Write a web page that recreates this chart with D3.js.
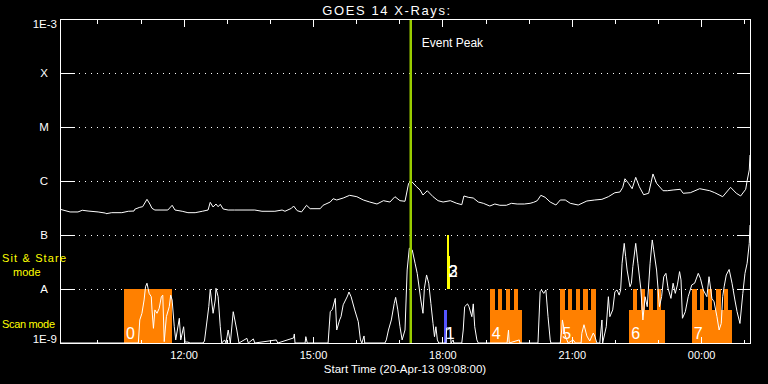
<!DOCTYPE html>
<html>
<head>
<meta charset="utf-8">
<script src="https://cdn.jsdelivr.net/npm/d3@7"></script>
<style>
  body { margin: 0; background: #000; }
  svg text { font-family: "Liberation Sans", Arial, sans-serif; fill: #fff; }
</style>
</head>
<body>
<svg id="chart" width="768" height="384"></svg>
<script>
// minutes after 20-Apr-13 09:08:00 UT
const timeRange = [0, 960];
const eventPeak = 488;

// flux levels on the y axis (W/m^2) and their labels
const fluxLevels = [1e-9, 1e-8, 1e-7, 1e-6, 1e-5, 1e-4, 1e-3];
const fluxLabels = ['1E-9', 'A', 'B', 'C', 'M', 'X', '1E-3'];

// GOES 14 long channel (1-8 A)
const longTime = [0,4,14,25,31,39,53,63,64,72,86,95,103,104,111,115,121,125,128,132,150,156,160,170,178,188,198,206,209,213,217,220,223,227,234,243,271,281,299,309,313,322,325,330,336,343,348,362,366,376,380,385,394,403,413,422,431,441,450,459,466,473,480,485,489,496,501,505,511,519,526,533,543,552,559,562,568,575,582,589,598,605,612,621,628,636,646,654,659,664,669,675,682,690,696,703,710,721,733,744,754,763,772,779,783,786,791,796,801,806,812,819,825,830,839,845,853,863,867,877,890,904,911,922,933,941,947,954,956,959,960];
const longFlux = [3.0e-7,2.9e-7,2.67e-7,2.67e-7,2.87e-7,2.78e-7,2.67e-7,2.55e-7,2.48e-7,2.59e-7,2.59e-7,2.75e-7,2.78e-7,3.0e-7,3.26e-7,3.34e-7,4.58e-7,3.75e-7,3.12e-7,2.9e-7,2.9e-7,3.55e-7,2.9e-7,2.75e-7,2.59e-7,2.59e-7,2.75e-7,2.9e-7,4.03e-7,3.3e-7,3.75e-7,3.34e-7,3.7e-7,3.03e-7,2.9e-7,2.9e-7,2.9e-7,2.75e-7,2.75e-7,2.9e-7,2.75e-7,3.12e-7,3.44e-7,2.82e-7,2.67e-7,3.55e-7,3.07e-7,3.07e-7,3.55e-7,4.08e-7,4.7e-7,4.45e-7,4.84e-7,5.43e-7,5.12e-7,4.45e-7,4.08e-7,3.75e-7,4.32e-7,4.08e-7,5.12e-7,4.32e-7,4.21e-7,9.06e-7,9.87e-7,7.84e-7,6.81e-7,5.5e-7,6.61e-7,5.12e-7,4.32e-7,4.08e-7,4.32e-7,3.86e-7,3.64e-7,5.28e-7,4.99e-7,4.84e-7,4.08e-7,3.86e-7,3.44e-7,3.75e-7,3.55e-7,3.55e-7,3.86e-7,3.75e-7,3.75e-7,3.86e-7,4.03e-7,4.32e-7,5.43e-7,4.99e-7,4.08e-7,3.59e-7,4.45e-7,4.45e-7,3.86e-7,3.59e-7,4.26e-7,4.45e-7,4.58e-7,5.12e-7,6.07e-7,6.25e-7,7.64e-7,1.1e-6,9.06e-7,7.2e-7,1.17e-6,7.84e-7,5.57e-7,5.92e-7,1.35e-6,9.06e-7,6.61e-7,6.61e-7,6.81e-7,7.02e-7,5.92e-7,6.07e-7,7.2e-7,6.61e-7,6.07e-7,5.12e-7,7.64e-7,5.92e-7,5.28e-7,7.02e-7,1.01e-6,1.6e-6,3.03e-6];

// GOES 14 short channel (0.5-4 A), floor at 1E-9
const shortTime = [0,109,111,114,117,119,121,124,127,128,130,132,135,138,141,143,145,148,152,154,156,159,161,166,168,172,174,178,181,199,201,207,209,213,216,217,220,223,225,229,231,234,237,241,246,249,260,262,269,271,301,303,325,326,327,341,342,344,373,376,379,383,385,389,391,394,400,402,405,410,415,418,420,423,424,452,454,457,461,465,467,470,473,476,480,483,486,490,494,497,502,505,507,510,513,516,519,521,523,525,527,537,538,543,544,547,548,559,561,563,567,569,573,575,577,580,582,622,624,625,639,640,665,668,670,673,676,679,682,683,696,698,699,703,707,714,717,725,726,729,733,737,742,744,747,751,754,755,760,763,765,769,772,775,778,780,782,785,787,789,793,795,797,801,804,808,811,814,817,821,824,826,830,834,837,840,843,846,850,853,856,859,862,864,866,870,874,879,883,888,891,895,900,903,907,910,914,917,920,922,924,927,931,935,939,942,946,950,953,956,959,960];
const shortFlux = [1e-9,1e-9,2.67e-9,3.55e-9,6.26e-9,1.1e-8,1.28e-8,8.3e-9,7.2e-9,4.1e-9,1.87e-9,4.1e-9,3.55e-9,4.4e-9,7.2e-9,7.7e-9,1.06e-9,3.07e-9,4.7e-9,7.7e-9,6.26e-9,2.0e-9,1.14e-9,2.87e-9,1.14e-9,2.0e-9,1.04e-9,1.04e-9,1e-9,1e-9,1.09e-9,4.7e-9,9.9e-9,3.55e-9,6.26e-9,1.03e-8,7.2e-9,2.0e-9,1e-9,1.14e-9,1e-9,1.74e-9,1e-9,3.8e-9,1.74e-9,1e-9,1.22e-9,1e-9,1.19e-9,1e-9,1.14e-9,1e-9,1.24e-9,1.47e-9,1e-9,1e-9,1.31e-9,1e-9,1e-9,3.8e-9,4.2e-9,6.7e-9,1.74e-9,2.67e-9,3.07e-9,5.1e-9,7.4e-9,8.8e-9,7.2e-9,4.1e-9,2.48e-9,1.14e-9,1e-9,1.35e-9,1e-9,1e-9,1.14e-9,1.74e-9,2.67e-9,5.4e-9,7.0e-9,4.1e-9,2.0e-9,1.14e-9,1.74e-9,2.25e-8,5.7e-8,5.3e-8,3.0e-8,1.95e-8,6.26e-9,3.55e-9,1.03e-8,1.82e-8,1.28e-8,5.4e-9,2.3e-9,1.31e-9,2.0e-9,1.14e-9,1e-9,1e-9,1.9e-9,1.9e-9,1e-9,1.14e-9,1e-9,1e-9,1.74e-9,4.7e-9,5.3e-9,4.7e-9,3.07e-9,5.3e-9,2.0e-9,1.14e-9,1e-9,1e-9,1.74e-9,1e-9,1.14e-9,1e-9,1e-9,8.9e-9,9.6e-9,8.3e-9,9.6e-9,3.07e-9,1.14e-9,1e-9,1e-9,1.74e-9,2.67e-9,1.35e-9,1e-9,1.14e-9,1e-9,1e-9,1.51e-9,2.18e-9,1.35e-9,1.09e-9,1.53e-9,1.35e-9,1e-9,1e-9,2.67e-9,1e-9,2.0e-9,7.2e-9,3.07e-9,4.1e-9,8.9e-9,9.6e-9,7.7e-9,9.6e-9,3.0e-8,7.0e-8,4.0e-8,2.25e-8,1.1e-8,1.28e-8,2.6e-8,7.0e-8,3.0e-8,1.03e-8,2.67e-9,7.2e-9,4.7e-9,3.0e-8,8.1e-8,5.3e-8,2.25e-8,4.7e-9,7.2e-9,1.69e-8,1.95e-8,1.03e-8,6.7e-9,1.28e-8,8.3e-9,1.19e-8,2.1e-8,1.47e-8,2.87e-9,3.8e-9,7.2e-9,1.19e-8,1.28e-8,1.95e-8,1.58e-8,9.6e-9,7.2e-9,1.69e-8,6.7e-9,5.8e-9,3.07e-9,1.74e-9,2.3e-9,7.2e-9,1.1e-8,1.82e-8,2.3e-8,1.28e-8,6.26e-9,3.8e-9,2.3e-9,8.3e-9,1.95e-8,3.0e-8,7.0e-8,1.53e-7];

// scan mode observations
const scanIds = [0, 1, 4, 5, 6, 7];
const scanStart = [89, 534, 598, 696, 792, 879];
const scanEnd = [156, 538, 643, 746, 842, 935];
const scanTop = [1e-8, 4.1e-9, 4.1e-9, 4.1e-9, 4.1e-9, 4.1e-9];
const scanKind = ['raster', 'single', 'raster', 'raster', 'raster', 'raster'];
// exposure windows inside the scans (reach the A level)
const exposureStart = [598, 609, 620, 631, 696, 707, 718, 728, 739, 797, 808, 819, 830, 879, 890, 901, 913, 924];
const exposureEnd = [605, 615, 626, 637, 702, 713, 724, 735, 746, 803, 814, 825, 836, 886, 896, 907, 919, 930];

// sit & stare observations
const stareIds = [2, 3];
const stareStart = [538, 541];
const stareEnd = [541, 543];
const stareTop = [1e-7, 4.1e-8];

const t0 = Date.UTC(2013, 3, 20, 9, 8);
const toDate = m => new Date(t0 + m * 60000);

const svg = d3.select('#chart');
const plotLeft = 60, plotRight = 750, plotTop = 19, plotBottom = 343;

const x = d3.scaleUtc().domain(timeRange.map(toDate)).range([plotLeft, plotRight]);
const y = d3.scaleLog().domain([fluxLevels[0], fluxLevels[fluxLevels.length - 1]])
    .range([plotBottom, plotTop]).clamp(true);

svg.append('rect').attr('width', 768).attr('height', 384).attr('fill', '#000');

// dotted level lines
const inner = fluxLevels.slice(1, -1);
svg.append('g').selectAll('line')
    .data(inner)
    .enter().append('line')
    .attr('x1', plotLeft + 19).attr('x2', plotRight - 14)
    .attr('y1', d => Math.round(y(d)) + 0.5).attr('y2', d => Math.round(y(d)) + 0.5)
    .attr('stroke', '#fff')
    .attr('stroke-dasharray', '1,5');

// scan blocks
const kindColor = { raster: '#ff8000', single: '#5555ff' };
const scans = scanIds.map((id, i) => ({ id, s: scanStart[i], e: scanEnd[i], top: scanTop[i], kind: scanKind[i] }));
svg.append('g').selectAll('rect')
    .data(scans)
    .enter().append('rect')
    .attr('x', d => x(toDate(d.s)))
    .attr('width', d => x(toDate(d.e)) - x(toDate(d.s)))
    .attr('y', d => y(d.top))
    .attr('height', d => y(fluxLevels[0]) - y(d.top))
    .attr('fill', d => kindColor[d.kind])
    .attr('shape-rendering', 'crispEdges');

const exposures = exposureStart.map((s, i) => ({ s, e: exposureEnd[i] }));
svg.append('g').selectAll('rect')
    .data(exposures)
    .enter().append('rect')
    .attr('x', d => x(toDate(d.s)))
    .attr('width', d => x(toDate(d.e)) - x(toDate(d.s)))
    .attr('y', y(fluxLevels[1]))
    .attr('height', y(fluxLevels[0]) - y(fluxLevels[1]))
    .attr('fill', kindColor.raster)
    .attr('shape-rendering', 'crispEdges');

// sit & stare bars
const stares = stareIds.map((id, i) => ({ id, s: stareStart[i], e: stareEnd[i], top: stareTop[i] }));
svg.append('g').selectAll('rect')
    .data(stares)
    .enter().append('rect')
    .attr('x', d => x(toDate(d.s)))
    .attr('width', d => x(toDate(d.e)) - x(toDate(d.s)))
    .attr('y', d => y(d.top))
    .attr('height', d => y(fluxLevels[1]) - y(d.top))
    .attr('fill', '#ffff00')
    .attr('shape-rendering', 'crispEdges');

// flux curves
const line = d3.line()
    .x(d => x(toDate(d[0])))
    .y(d => y(d[1]));
const longData = longTime.map((t, i) => [t, longFlux[i]]);
const shortData = shortTime.map((t, i) => [t, shortFlux[i]]);
[longData, shortData].forEach(data => {
    svg.append('path')
        .datum(data)
        .attr('d', line)
        .attr('fill', 'none')
        .attr('stroke', '#fff')
        .attr('stroke-width', 1);
});

// observation numbers
svg.append('g').selectAll('text')
    .data(scans)
    .enter().append('text')
    .attr('x', d => x(toDate(d.s)) + 2)
    .attr('y', y(fluxLevels[0]) - 4)
    .attr('font-size', 16)
    .text(d => d.id);
svg.append('g').selectAll('text')
    .data(stares)
    .enter().append('text')
    .attr('x', x(toDate(stareStart[0])) + 2)
    .attr('y', y(fluxLevels[1]) - 12)
    .attr('font-size', 16)
    .text(d => d.id);

// event peak
const xp = x(toDate(eventPeak));
svg.append('line')
    .attr('x1', xp).attr('x2', xp)
    .attr('y1', plotTop).attr('y2', plotBottom)
    .attr('stroke', '#99cc00')
    .attr('stroke-width', 2.5);
svg.append('text')
    .attr('x', xp + 11).attr('y', 47)
    .attr('font-size', 12)
    .text('Event Peak');

// frame and axes
const axes = svg.append('g').attr('shape-rendering', 'crispEdges');
axes.append('rect')
    .attr('x', plotLeft + 0.5).attr('y', plotTop + 0.5)
    .attr('width', plotRight - plotLeft).attr('height', plotBottom - plotTop)
    .attr('fill', 'none').attr('stroke', '#fff');

function styleAxis(g) {
    g.select('.domain').remove();
    g.selectAll('line').attr('stroke', '#fff');
    g.selectAll('text').attr('fill', '#fff').attr('font-family', '"Liberation Sans", Arial, sans-serif');
}

axes.append('g').attr('transform', `translate(${plotLeft + 0.5},0)`)
    .call(d3.axisRight(y).tickValues(inner).tickSize(14).tickFormat(''))
    .call(styleAxis);
axes.append('g').attr('transform', `translate(${plotRight + 0.5},0)`)
    .call(d3.axisLeft(y).tickValues(inner).tickSize(14).tickFormat(''))
    .call(styleAxis);

// hour ticks top and bottom
axes.append('g').attr('transform', `translate(0,${plotTop + 0.5})`)
    .call(d3.axisBottom(x).ticks(d3.utcHour.every(1)).tickSize(4).tickFormat(''))
    .call(styleAxis);
axes.append('g').attr('transform', `translate(0,${plotTop + 0.5})`)
    .call(d3.axisBottom(x).ticks(d3.utcHour.every(3)).tickSize(7).tickFormat(''))
    .call(styleAxis);
axes.append('g').attr('transform', `translate(0,${plotBottom + 0.5})`)
    .call(d3.axisTop(x).ticks(d3.utcHour.every(1)).tickSize(4).tickFormat(''))
    .call(styleAxis);
axes.append('g').attr('transform', `translate(0,${plotBottom + 0.5})`)
    .call(d3.axisBottom(x).ticks(d3.utcHour.every(3)).tickSizeInner(-7).tickSizeOuter(0)
        .tickPadding(8).tickFormat(d3.utcFormat('%H:%M')))
    .call(styleAxis)
    .call(g => g.selectAll('text').attr('font-size', 11));

// y labels
const lastLevel = fluxLevels.length - 1;
svg.append('g').selectAll('text')
    .data(fluxLevels)
    .enter().append('text')
    .attr('x', (d, i) => (i === 0 || i === lastLevel) ? plotLeft - 3 : plotLeft - 16)
    .attr('y', (d, i) => i === 0 ? plotBottom : (i === lastLevel ? plotTop + 8.5 : y(d) + 4))
    .attr('text-anchor', (d, i) => (i === 0 || i === lastLevel) ? 'end' : 'middle')
    .attr('font-size', 11.5)
    .text((d, i) => fluxLabels[i]);

// mode labels
const modeLabels = svg.append('g').style('fill', '#ffff00').attr('font-size', 11);
modeLabels.append('text').attr('x', 2).attr('y', 262).attr('textLength', 64).style('fill', '#ffff00').text('Sit & Stare');
modeLabels.append('text').attr('x', 13).attr('y', 276).style('fill', '#ffff00').text('mode');
modeLabels.append('text').attr('x', 2).attr('y', 328).attr('textLength', 53).style('fill', '#ffff00').text('Scan mode');

// titles
svg.append('text').attr('x', 387).attr('y', 15).attr('text-anchor', 'middle')
    .attr('font-size', 13).attr('letter-spacing', 1.6)
    .text('GOES 14 X-Rays:');
svg.append('text').attr('x', (plotLeft + plotRight) / 2).attr('y', 373).attr('text-anchor', 'middle').attr('font-size', 11.5)
    .text('Start Time (20-Apr-13 09:08:00)');
</script>
</body>
</html>
